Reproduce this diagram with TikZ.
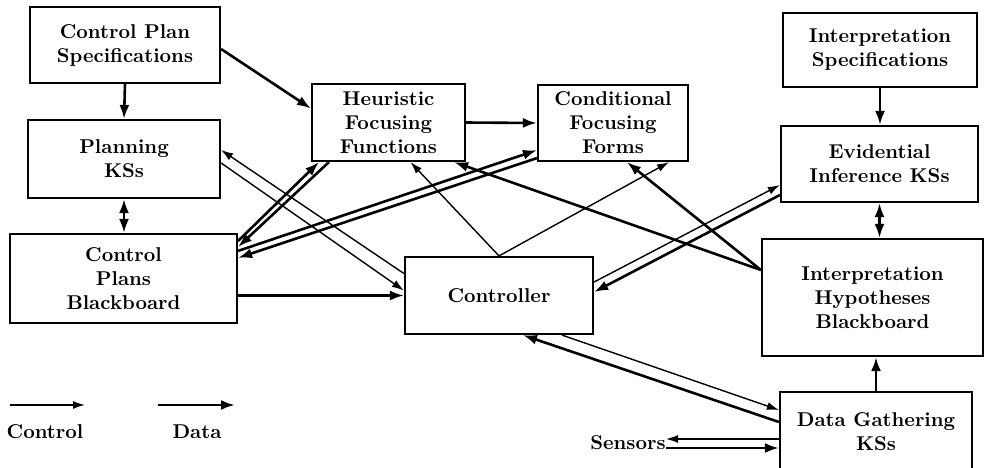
\documentclass[tikz,border=0pt]{standalone}
\usepackage{tikz}
\usetikzlibrary{arrows.meta, calc}

\begin{document}
\begin{tikzpicture}[x=0.5pt, y=-0.5pt,
  box/.style 2 args={draw, line width=1.1pt, minimum width=#1, minimum height=#2,
                     align=center, font=\bfseries, inner sep=0pt},
  ctlarr/.style={line width=0.7pt, -{Latex[length=6pt, width=4pt]}},
  datarr/.style={line width=1.3pt, -{Latex[length=7pt, width=5pt]}},
  dblarr/.style={line width=1.3pt, {Latex[length=7pt, width=5pt]}-{Latex[length=7pt, width=5pt]}}]

  \useasboundingbox (0,0) rectangle (984,467);

  \node[box={95pt}{38pt}]     (cps) at (125,45)      {Control Plan\\Specifications};
  \node[box={96pt}{39pt}]     (pks) at (124,159)     {Planning\\KSs};
  \node[box={113.5pt}{44.5pt}] (cpb) at (123.5,278.5) {Control\\Plans\\Blackboard};
  \node[box={76.5pt}{38.5pt}] (hff) at (388.5,122.5) {Heuristic\\Focusing\\Functions};
  \node[box={75pt}{38pt}]     (cff) at (613,123)     {Conditional\\Focusing\\Forms};
  \node[box={94pt}{38.5pt}]   (ctl) at (499,295.5)   {Controller};
  \node[box={97pt}{37pt}]     (isp) at (880,50)      {Interpretation\\Specifications};
  \node[box={98.5pt}{38pt}]   (eik) at (879.5,164)   {Evidential\\Inference KSs};
  \node[box={110.5pt}{58.5pt}] (ihb) at (872.5,297.5) {Interpretation\\Hypotheses\\Blackboard};
  \node[box={96pt}{40pt}]     (dgk) at (876,432)     {Data Gathering\\KSs};
  \node[font=\bfseries, inner sep=0pt, anchor=east] (sns) at (666,443) {Sensors};

  \draw[datarr] (cps.south) -- (pks.north);
  \draw[datarr] ([yshift=-2pt]cps.east) -- ([yshift=7pt]hff.west);
  \draw[dblarr] (pks.south) -- (pks.south |- cpb.north);
  \draw[ctlarr] ([yshift=11pt]ctl.west) -- ([yshift=4.5pt]pks.east);
  \draw[ctlarr] ([yshift=-2pt]pks.east) -- ([yshift=2.5pt]ctl.west);
  \draw[datarr] ([yshift=-4pt]cpb.north east) -- ([xshift=4pt]hff.south west);
  \draw[datarr] ([xshift=9pt]hff.south west) -- ([yshift=-7pt]cpb.north east);
  \draw[datarr] ([yshift=-9pt]cpb.north east) -- ([yshift=6pt]cff.south west);
  \draw[datarr] ([yshift=2pt]cff.south west) -- ([yshift=-12.5pt]cpb.north east);
  \draw[datarr] (cpb.east |- ctl.west) -- (ctl.west);
  \draw[datarr] (hff.east) -- (cff.west);
  \draw[ctlarr] (ctl.north) -- ([xshift=11pt]hff.south);
  \draw[ctlarr] (ctl.north) -- ([xshift=-10pt]cff.south east);
  \draw[datarr] ([yshift=13.75pt]ihb.west) -- ([xshift=-6pt]hff.south east);
  \draw[datarr] ([yshift=13.75pt]ihb.west) -- ([xshift=7pt]cff.south);
  \draw[ctlarr] ([yshift=6.75pt]ctl.east) -- ([yshift=-10.5pt]eik.west);
  \draw[datarr] ([yshift=-15.5pt]eik.west) -- ([yshift=1.75pt]ctl.east);
  \draw[datarr] (isp.south) -- (isp.south |- eik.north);
  \draw[dblarr] (eik.south) -- (eik.south |- ihb.north);
  \draw[datarr] (dgk.north) -- (dgk.north |- ihb.south);
  \draw[ctlarr] ([xshift=31.5pt]ctl.south) -- ([yshift=11pt]dgk.west);
  \draw[datarr] ([yshift=5pt]dgk.west) -- ([xshift=12pt]ctl.south);
  \draw[ctlarr] ([yshift=-3.5pt]dgk.west) -- ([yshift=2pt]sns.east);
  \draw[datarr] ([yshift=-2.5pt]sns.east) -- ([yshift=-8pt]dgk.west);

  \coordinate (ctlA) at (10,405);
  \coordinate (ctlB) at (85,405);
  \coordinate (datA) at (158,405);
  \coordinate (datB) at (235,405);
  \draw[ctlarr] (ctlA) -- (ctlB);
  \draw[datarr] (datA) -- (datB);
  \node[font=\bfseries] (ctllbl) at (45,432) {Control};
  \node[font=\bfseries] (datlbl) at (197,432) {Data};
\end{tikzpicture}
\end{document}
